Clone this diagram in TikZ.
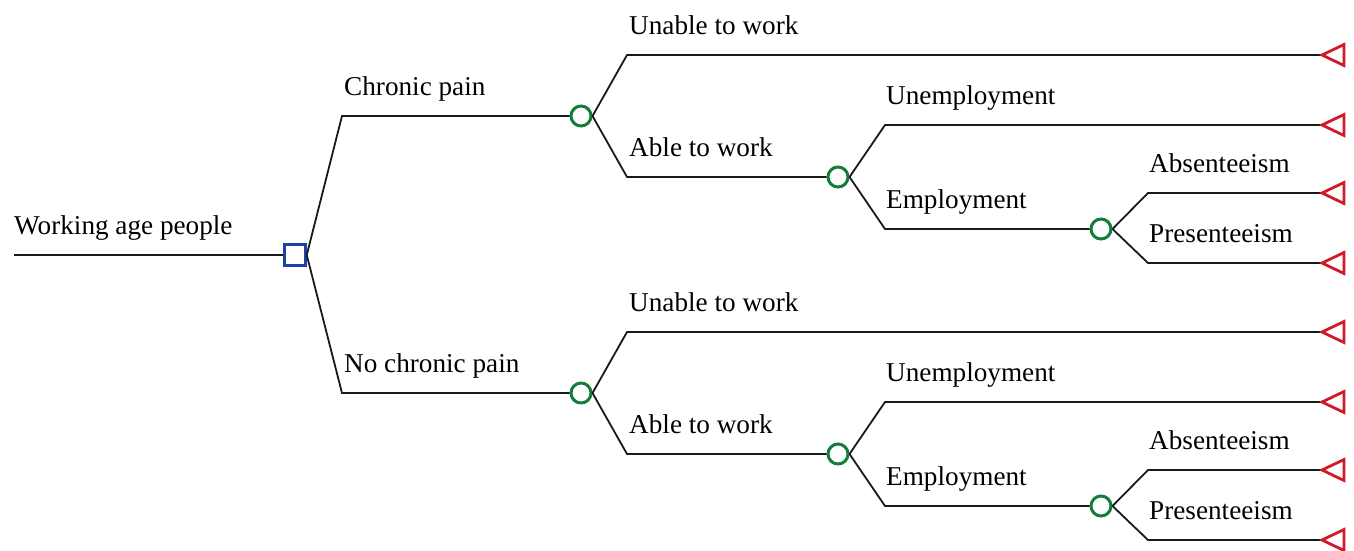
\documentclass[tikz,border=0pt]{standalone}
\usepackage{fontspec}
\setmainfont{Liberation Serif}
\definecolor{sqblue}{RGB}{30,65,165}
\definecolor{chgreen}{RGB}{20,125,60}
\definecolor{termred}{RGB}{210,25,40}
\begin{document}
\begin{tikzpicture}[x=1pt,y=-1pt,
  branch/.style={draw=black!90, line width=1.8pt},
  chance/.style={circle, draw=chgreen, line width=3pt, minimum size=20pt, inner sep=0pt},
  decision/.style={rectangle, draw=sqblue, line width=3pt, minimum size=20.5pt, inner sep=0pt},
  lbl/.style={anchor=base west, inner sep=0pt, font=\fontsize{27.2}{32}\selectfont},
  term/.style={draw=termred, line width=2.8pt, line join=miter}]
\useasboundingbox (0,0) rectangle (1354,550);

\coordinate (r0) at (14,255);
\node[decision] (sq) at (295,255) {};
\draw[branch] (r0) -- (sq.west);
\node[lbl] (lroot) at (14,234) {Working age people};

\foreach \o/\s/\txt in {0/a/Chronic pain, 277/b/No chronic pain}{
  \coordinate (k1\s) at (342,116+\o);
  \node[chance] (c1\s) at (581,116+\o) {};
  \coordinate (k2a\s) at (627,55+\o);
  \coordinate (t1\s) at (1322,55+\o);
  \coordinate (k2b\s) at (627,177+\o);
  \node[chance] (c2\s) at (838,177+\o) {};
  \coordinate (k3a\s) at (885,125+\o);
  \coordinate (t2\s) at (1322,125+\o);
  \coordinate (k3b\s) at (885,229+\o);
  \node[chance] (c3\s) at (1101,229+\o) {};
  \coordinate (k4a\s) at (1148,193+\o);
  \coordinate (t3\s) at (1322,193+\o);
  \coordinate (k4b\s) at (1148,263+\o);
  \coordinate (t4\s) at (1322,263+\o);

  \draw[branch] (sq.east) -- (k1\s) -- (c1\s.west);
  \draw[branch] (c1\s.east) -- (k2a\s) -- (t1\s);
  \draw[branch] (c1\s.east) -- (k2b\s) -- (c2\s.west);
  \draw[branch] (c2\s.east) -- (k3a\s) -- (t2\s);
  \draw[branch] (c2\s.east) -- (k3b\s) -- (c3\s.west);
  \draw[branch] (c3\s.east) -- (k4a\s) -- (t3\s);
  \draw[branch] (c3\s.east) -- (k4b\s) -- (t4\s);

  \foreach \t in {t1\s,t2\s,t3\s,t4\s}{
    \draw[term] (\t) -- ++(22,-10.5) -- ++(0,21) -- cycle;
  }

  \node[lbl] at (344,95+\o) {\txt};
  \node[lbl] at (629,34+\o) {Unable to work};
  \node[lbl] at (629,156+\o) {Able to work};
  \node[lbl] at (886,104+\o) {Unemployment};
  \node[lbl] at (886,208+\o) {Employment};
  \node[lbl] at (1149,172+\o) {Absenteeism};
  \node[lbl] at (1149,242+\o) {Presenteeism};
}
\end{tikzpicture}
\end{document}
